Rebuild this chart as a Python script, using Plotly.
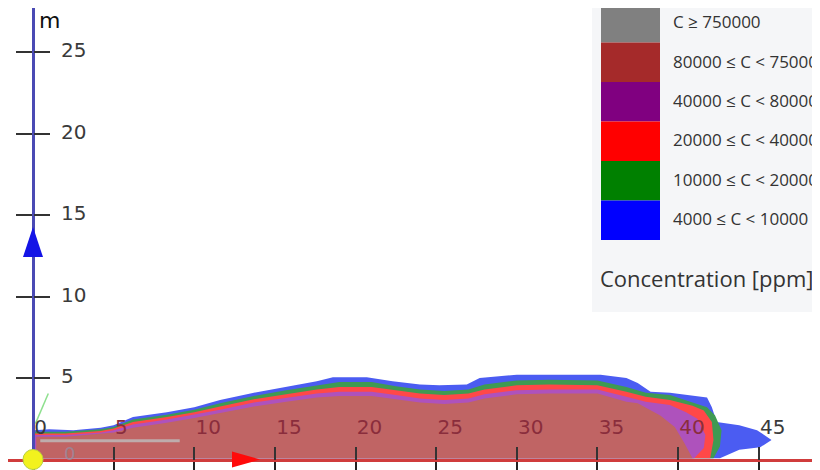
import plotly.graph_objects as go

# ---------------- data ----------------
x_tick_vals = [5, 10, 15, 20, 25, 30, 35, 40, 45]
x_labels_plume_vals = [5, 10, 15, 20, 25, 30, 35, 40]
x_labels_plume_text = ["5", "10", "15", "20", "25", "30", "35", "40"]
x_labels_plain_vals = [0, 45]
x_labels_plain_text = ["0", "45"]
y_tick_vals = [5, 10, 15, 20, 25]
y_tick_text = ["5", "10", "15", "20", "25"]

legend_labels = ["C ≥ 750000", "80000 ≤ C < 750000", "40000 ≤ C < 80000",
                 "20000 ≤ C < 40000", "10000 ≤ C < 20000", "4000 ≤ C < 10000"]
legend_colors = ["#808080", "#a52a2a", "#800080", "#ff0000", "#008000", "#0000ff"]
legend_title = "Concentration [ppm]"

# plume outlines: downwind distance (m) / height (m)
blue_x = [0.1, 0.1, 1.0, 2.5, 4.2, 5.0, 6.2, 8.3, 10.0, 11.6, 13.7, 15.7, 17.6, 18.6, 20.7, 22.3,
          24.0, 25.2, 26.9, 27.7, 30.0, 35.2, 36.8, 37.5, 38.3, 39.5, 40.9, 41.8, 42.1, 42.4,
          43.8, 44.9, 45.8, 45.1, 43.8, 42.8, 42.6]
blue_y = [0.08, 1.8, 1.85, 1.8, 1.95, 2.1, 2.6, 2.9, 3.2, 3.65, 4.1, 4.45, 4.8, 5.05, 5.05, 4.8,
          4.6, 4.55, 4.6, 5.0, 5.2, 5.2, 5.0, 4.7, 4.15, 4.1, 3.9, 3.8, 3.2, 2.3,
          2.1, 1.8, 1.2, 0.75, 0.6, 0.15, 0.08]
green_x = [0.1, 0.1, 2.0, 4.2, 5.0, 6.2, 8.3, 10.0, 11.6, 13.7, 15.7, 17.6, 19.0, 21.0, 22.5, 24.0,
           25.5, 27.0, 28.0, 30.0, 32.0, 35.0, 36.8, 38.0, 39.5, 40.9, 41.8, 42.3, 42.7, 42.6, 42.2]
green_y = [0.08, 1.7, 1.7, 1.85, 2.0, 2.45, 2.75, 3.05, 3.45, 3.9, 4.25, 4.55, 4.75, 4.75, 4.5, 4.3,
           4.2, 4.3, 4.6, 4.85, 4.9, 4.85, 4.45, 4.1, 3.95, 3.5, 3.2, 2.7, 1.8, 0.8, 0.08]
red_x = [0.1, 0.1, 2.0, 4.2, 5.0, 6.2, 8.3, 10.0, 11.6, 13.7, 15.7, 17.6, 19.0, 21.0, 22.5, 24.0,
         25.5, 27.0, 28.0, 30.0, 32.0, 35.0, 36.8, 38.0, 39.5, 40.9, 41.6, 42.1, 42.2, 42.0]
red_y = [0.08, 1.6, 1.6, 1.75, 1.9, 2.3, 2.6, 2.9, 3.25, 3.7, 4.0, 4.3, 4.45, 4.45, 4.25, 4.05,
         3.95, 4.05, 4.3, 4.55, 4.6, 4.55, 4.15, 3.85, 3.65, 3.3, 3.0, 2.3, 1.2, 0.08]
purple_x = [0.1, 0.1, 2.0, 4.2, 5.0, 6.2, 8.3, 10.0, 11.6, 13.7, 15.7, 17.6, 19.0, 21.0, 22.5, 24.0,
            25.5, 27.0, 28.0, 30.0, 32.0, 35.0, 36.8, 38.0, 39.5, 40.5, 41.2, 41.7, 41.6, 41.0]
purple_y = [0.08, 1.5, 1.5, 1.65, 1.8, 2.15, 2.45, 2.75, 3.05, 3.5, 3.8, 4.05, 4.15, 4.15, 3.95, 3.75,
            3.65, 3.75, 4.0, 4.25, 4.3, 4.3, 3.85, 3.55, 3.35, 2.9, 2.5, 1.5, 0.7, 0.08]
core_x = [0.2, 0.2, 2.0, 4.2, 5.0, 6.2, 8.3, 10.0, 11.6, 13.7, 15.7, 17.6, 19.0, 21.0, 22.5, 24.0,
          25.5, 27.0, 28.0, 30.0, 32.0, 35.0, 36.8, 37.5, 38.9, 39.8, 40.4, 40.8, 40.9]
core_y = [0.08, 1.4, 1.4, 1.55, 1.65, 1.95, 2.25, 2.55, 2.85, 3.25, 3.55, 3.8, 3.9, 3.9, 3.7, 3.5,
          3.4, 3.5, 3.75, 4.0, 4.05, 4.05, 3.55, 3.45, 2.7, 2.0, 1.0, 0.3, 0.08]

plume_bands = [
    (blue_x, blue_y, "#4b5cf2"),
    (green_x, green_y, "#3f9a52"),
    (red_x, red_y, "#ff4848"),
    (purple_x, purple_y, "#ae52bc"),
    (core_x, core_y, "#c06464"),
]

# decorations of the 3D view (anchor points in metres)
flow_arrow_at = (12.34, 0.0)
up_arrow_at = (0.0, 12.42)
grey_line_x = [0.45, 9.1]
grey_line_y = [1.15, 1.15]
green_line_x = [0.15, 0.95]
green_line_y = [2.2, 4.05]

# ---------------- layout constants ----------------
# the page body keeps an 8px margin; positions below are measured in window pixels
OFF = 8
W, H = 820, 470
ORIGIN_PX, ORIGIN_PY = 33 - OFF, 459.5 - OFF
PX_PER_M_X, PX_PER_M_Y = 16.125, 16.3
X_RANGE = [-ORIGIN_PX / PX_PER_M_X, (W - ORIGIN_PX) / PX_PER_M_X]
Y_RANGE = [-(H - ORIGIN_PY) / PX_PER_M_Y, ORIGIN_PY / PX_PER_M_Y]
X_AXIS_POS = (H - ORIGIN_PY) / H
Y_AXIS_POS = ORIGIN_PX / W

fig = go.Figure()

for bx, by, col in plume_bands:
    fig.add_trace(go.Scatter(x=bx, y=by, mode="lines", fill="toself", fillcolor=col,
                             line=dict(width=0, color=col), hoverinfo="skip"))

fig.add_trace(go.Scatter(x=grey_line_x, y=grey_line_y, mode="lines",
                         line=dict(color="rgba(190,180,180,0.9)", width=3), hoverinfo="skip"))
fig.add_trace(go.Scatter(x=green_line_x, y=green_line_y, mode="lines",
                         line=dict(color="#8ee08e", width=1.5), hoverinfo="skip"))

tick_font = dict(family="DejaVu Sans", size=20, color="#3a3a3a")


def pad_single(labels):
    # keep one-digit labels left-aligned with their tick like the two-digit ones
    return [t + "\u2007" if len(t) == 1 else t for t in labels]


common_x = dict(range=X_RANGE, anchor="free", position=X_AXIS_POS, showgrid=False,
                zeroline=False, layer="above traces", fixedrange=True)
common_y = dict(range=Y_RANGE, anchor="free", position=Y_AXIS_POS, showgrid=False,
                zeroline=False, layer="above traces", fixedrange=True)

fig.update_layout(
    width=W, height=H, margin=dict(l=0, r=0, t=0, b=0),
    paper_bgcolor="white", plot_bgcolor="white", showlegend=False,
    xaxis=dict(**common_x, showline=True, linecolor="#d03c3c", linewidth=3,
               ticks="outside", ticklen=13, tickwidth=2, tickcolor="#222222",
               tickvals=x_tick_vals, showticklabels=False),
    xaxis2=dict(**common_x, overlaying="x", showline=False,
                ticks="inside", ticklen=13, tickwidth=2, tickcolor="#333333",
                tickvals=x_tick_vals, showticklabels=False),
    xaxis3=dict(**common_x, overlaying="x", showline=False, ticks="",
                tickvals=x_labels_plume_vals, ticktext=pad_single(x_labels_plume_text),
                ticklabelposition="inside", ticklabelstandoff=19, ticklabelshift=14,
                tickfont=dict(family="DejaVu Sans", size=20, color="#8a2d3c")),
    xaxis4=dict(**common_x, overlaying="x", showline=False, ticks="",
                tickvals=x_labels_plain_vals, ticktext=pad_single(x_labels_plain_text),
                ticklabelposition="inside", ticklabelstandoff=19, ticklabelshift=14,
                tickfont=tick_font),
    yaxis=dict(**common_y, showline=True, linecolor="#4a4ab4", linewidth=3,
               ticks="outside", ticklen=16, tickwidth=2, tickcolor="#333333",
               tickvals=y_tick_vals, showticklabels=False),
    yaxis2=dict(**common_y, overlaying="y", showline=False,
                ticks="inside", ticklen=16, tickwidth=2, tickcolor="#333333",
                tickvals=y_tick_vals, ticktext=y_tick_text,
                ticklabelposition="inside", ticklabelstandoff=12, ticklabelshift=-2,
                tickfont=tick_font),
)

# dummy traces to activate the overlay axes
for xa, ya in [("x2", "y2"), ("x3", "y"), ("x4", "y")]:
    fig.add_trace(go.Scatter(x=[None], y=[None], xaxis=xa, yaxis=ya, hoverinfo="skip"))

# direction arrows (pixel-sized glyphs anchored at data points)
fig.add_shape(type="path", xref="x", yref="y", xsizemode="pixel", ysizemode="pixel",
              xanchor=flow_arrow_at[0], yanchor=flow_arrow_at[1],
              path="M 0,-8 L 28,0 L 0,8 Z", fillcolor="#ff0a0a", line=dict(width=0),
              layer="above")
fig.add_shape(type="path", xref="x", yref="y", xsizemode="pixel", ysizemode="pixel",
              xanchor=up_arrow_at[0], yanchor=up_arrow_at[1],
              path="M -10,0 L 0,30 L 10,0 Z", fillcolor="#1414e6", line=dict(width=0),
              layer="above")

# origin marker (anchored at data origin)
fig.add_shape(type="circle", xref="x", yref="y", xsizemode="pixel", ysizemode="pixel",
              xanchor=0, yanchor=0, x0=-10, x1=10, y0=-10, y1=10,
              fillcolor="#f2f21e", line=dict(color="#b8d040", width=1), layer="above")


# window pixel -> paper
def px(v):
    return (v - OFF) / W


def py(v):
    return 1 - (v - OFF) / H


# axis unit labels
fig.add_annotation(x=0, y=1, xref="x", yref="paper", text="m", showarrow=False,
                   xanchor="left", yanchor="top", xshift=4, yshift=2,
                   font=dict(family="DejaVu Sans", size=22, color="#111111"))
fig.add_annotation(x=px(809), y=0, xref="paper", yref="y", text="m", showarrow=False,
                   xanchor="left", yanchor="bottom", yshift=8,
                   font=dict(family="DejaVu Sans", size=22, color="#111111"))
fig.add_annotation(x=0, y=0, xref="x", yref="y", text="0", showarrow=False,
                   xanchor="left", yanchor="bottom", xshift=29, yshift=-6,
                   font=dict(family="DejaVu Sans", size=18, color="rgba(150,140,160,0.8)"))

# legend panel
fig.add_shape(type="rect", xref="paper", yref="paper", x0=px(592), x1=1, y0=py(312), y1=1,
              fillcolor="#f5f6f8", line=dict(width=0), layer="below")
row_h = 39.5
n = len(legend_labels)
for i, (lab, col) in enumerate(zip(legend_labels, legend_colors)):
    bot = 240 - (n - 1 - i) * row_h
    top = max(bot - row_h, OFF)
    fig.add_shape(type="rect", xref="paper", yref="paper", x0=px(601), x1=px(660),
                  y0=py(bot), y1=py(top), fillcolor=col, line=dict(width=0))
    fig.add_annotation(xref="paper", yref="paper", x=px(671), y=py(bot - 21),
                       text=lab, showarrow=False, xanchor="left", yanchor="middle",
                       font=dict(family="Open Sans", size=17, color="#333333"))
fig.add_annotation(xref="paper", yref="paper", x=px(598), y=py(278), text=legend_title,
                   showarrow=False, xanchor="left", yanchor="middle",
                   font=dict(family="Open Sans", size=22, color="#333333"))

fig.write_html("out.html")
